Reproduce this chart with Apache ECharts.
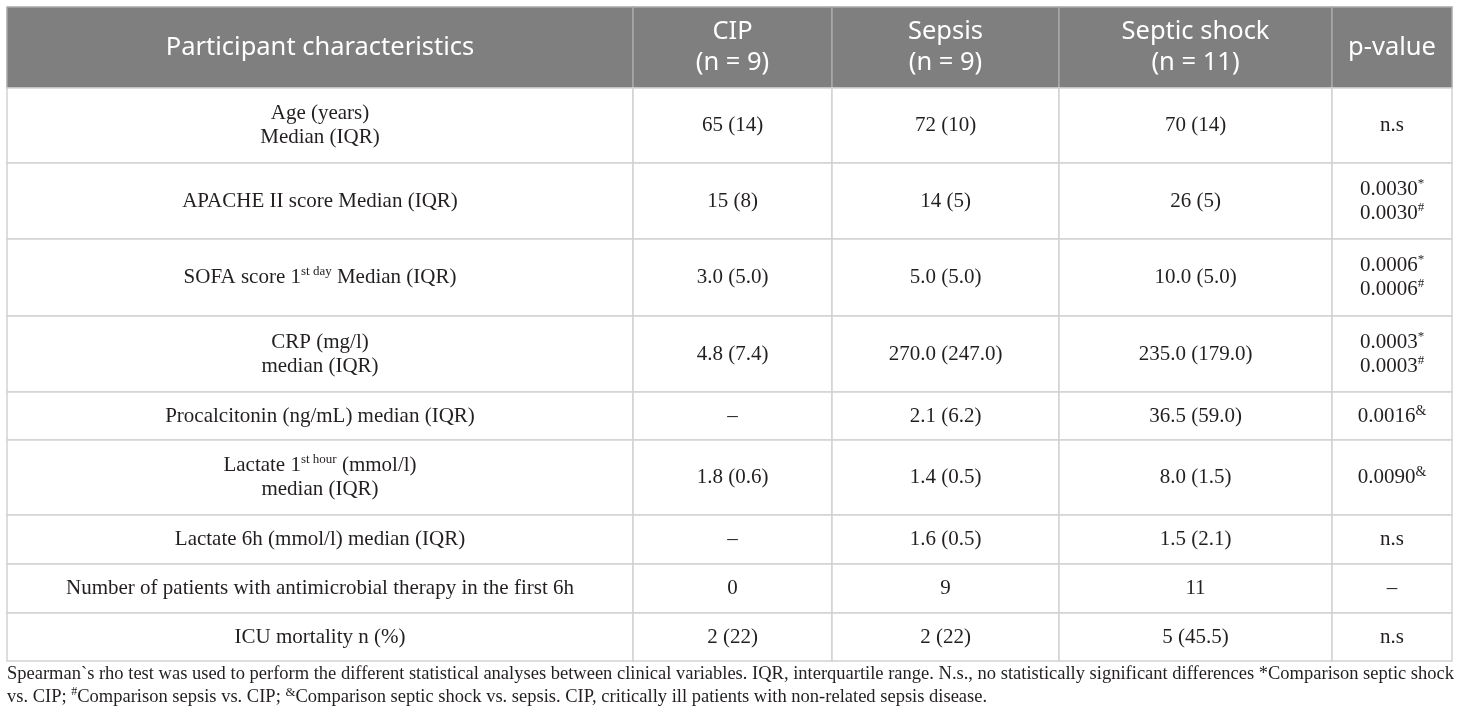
<!DOCTYPE html>
<html>
<head>
<meta charset="utf-8">
<script src="https://cdn.jsdelivr.net/npm/echarts@6/dist/echarts.min.js"></script>
<style>
  html, body { margin: 0; padding: 0; background: #fff; }
  #chart { width: 1460px; height: 723px; }
</style>
</head>
<body>
<div id="chart"></div>
<script>
// table content
const columnHeaders = ['Participant characteristics', 'CIP\n(n = 9)', 'Sepsis\n(n = 9)', 'Septic shock\n(n = 11)', 'p-value'];
const characteristics = [
  'Age (years)\nMedian (IQR)',
  'APACHE II score Median (IQR)',
  'SOFA score 1{sup|st day} Median (IQR)',
  'CRP (mg/l)\nmedian (IQR)',
  'Procalcitonin (ng/mL) median (IQR)',
  'Lactate 1{sup|st hour} (mmol/l)\nmedian (IQR)',
  'Lactate 6h (mmol/l) median (IQR)',
  'Number of patients with antimicrobial therapy in the first 6h',
  'ICU mortality n (%)'
];
const cipValues = ['65 (14)', '15 (8)', '3.0 (5.0)', '4.8 (7.4)', '–', '1.8 (0.6)', '–', '0', '2 (22)'];
const sepsisValues = ['72 (10)', '14 (5)', '5.0 (5.0)', '270.0 (247.0)', '2.1 (6.2)', '1.4 (0.5)', '1.6 (0.5)', '9', '2 (22)'];
const septicShockValues = ['70 (14)', '26 (5)', '10.0 (5.0)', '235.0 (179.0)', '36.5 (59.0)', '8.0 (1.5)', '1.5 (2.1)', '11', '5 (45.5)'];
const pValues = [
  'n.s',
  '0.0030{sup|*}\n0.0030{sup|#}',
  '0.0006{sup|*}\n0.0006{sup|#}',
  '0.0003{sup|*}\n0.0003{sup|#}',
  '0.0016{amp|&}',
  '0.0090{amp|&}',
  'n.s',
  '–',
  'n.s'
];
const footnote = 'Spearman`s rho test was used to perform the different statistical analyses between clinical variables. IQR, interquartile range. N.s., no statistically significant differences *Comparison septic shock\n' +
  'vs. CIP; {sup|#}Comparison sepsis vs. CIP; {amp|&}Comparison septic shock vs. sepsis. CIP, critically ill patients with non-related sepsis disease.';

// layout: column widths / row heights in axis units
const colWidths = [626, 199, 227, 273, 120];
const rowHeights = [81, 75, 76, 77, 76, 48, 75, 49, 49, 48];

const colEdges = [0];
colWidths.forEach(w => colEdges.push(colEdges[colEdges.length - 1] + w));
const rowEdges = [0];
rowHeights.forEach(h => rowEdges.push(rowEdges[rowEdges.length - 1] + h));

const bodyColumns = [characteristics, cipValues, sepsisValues, septicShockValues, pValues];
const cellText = [columnHeaders];
characteristics.forEach((_, r) => cellText.push(bodyColumns.map(col => col[r])));

const cells = [];
cellText.forEach((row, r) => row.forEach((_, c) => cells.push([c, r])));

const SERIF = '"Liberation Serif", "DejaVu Serif", serif';
const SANS = '"Noto Sans", "Open Sans", sans-serif';

const bodyRich = {
  sup: { fontSize: 13, fontFamily: SERIF, lineHeight: 14, verticalAlign: 'top', fill: '#231f20' },
  amp: { fontSize: 14, fontFamily: SERIF, lineHeight: 14, verticalAlign: 'top', fill: '#231f20' }
};

function renderCell(params, api) {
  const c = api.value(0), r = api.value(1);
  const p0 = api.coord([colEdges[c], rowEdges[r]]);
  const p1 = api.coord([colEdges[c + 1], rowEdges[r + 1]]);
  const isHead = r === 0;
  const text = cellText[r][c];
  return {
    type: 'group',
    children: [{
      type: 'rect',
      shape: { x: p0[0], y: p0[1], width: p1[0] - p0[0], height: p1[1] - p0[1] },
      style: { fill: isHead ? '#7f7f7f' : '#fff', stroke: isHead ? '#a9a9a9' : '#d2d2d2', lineWidth: 1.5 }
    }, {
      type: 'text',
      style: isHead ? {
        text: text,
        x: (p0[0] + p1[0]) / 2,
        y: (p0[1] + p1[1]) / 2,
        align: 'center',
        verticalAlign: 'middle',
        fill: '#fff',
        fontSize: 25.5,
        fontFamily: SANS,
        lineHeight: 31
      } : {
        text: text,
        x: (p0[0] + p1[0]) / 2,
        y: (p0[1] + p1[1]) / 2,
        align: 'center',
        verticalAlign: 'middle',
        fill: '#231f20',
        fontSize: 21,
        fontFamily: SERIF,
        lineHeight: 24,
        rich: bodyRich
      }
    }]
  };
}

const chart = echarts.init(document.getElementById('chart'));
chart.setOption({
  backgroundColor: '#fff',
  animation: false,
  grid: { left: 7, right: 8, top: 7, bottom: 62 },
  xAxis: { type: 'value', min: 0, max: colEdges[colEdges.length - 1], show: false },
  yAxis: { type: 'value', min: 0, max: rowEdges[rowEdges.length - 1], inverse: true, show: false },
  series: [{
    type: 'custom',
    renderItem: renderCell,
    data: cells,
    silent: true
  }],
  graphic: [{
    type: 'text',
    left: 7,
    top: 663,
    style: {
      text: footnote,
      fill: '#231f20',
      fontSize: 18.5,
      fontFamily: SERIF,
      lineHeight: 23,
      rich: {
        sup: { fontSize: 12, fontFamily: SERIF, lineHeight: 12, verticalAlign: 'top', fill: '#231f20' },
        amp: { fontSize: 13, fontFamily: SERIF, lineHeight: 12, verticalAlign: 'top', fill: '#231f20' }
      }
    }
  }]
});
</script>
</body>
</html>
